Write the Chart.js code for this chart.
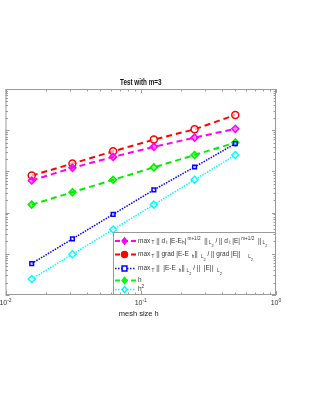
<!DOCTYPE html>
<html>
<head>
<meta charset="utf-8">
<script src="https://cdn.jsdelivr.net/npm/chart.js@4/dist/chart.umd.min.js"></script>
<style>
  html, body { margin: 0; padding: 0; background: #fff; }
  #c { display: block; }
</style>
</head>
<body>
<canvas id="c" width="327" height="394"></canvas>
<script>
// ---- data ----
const meshSizes = [0.015625, 0.03125, 0.0625, 0.125, 0.25, 0.5];
const errDtNorm = [0.060, 0.122, 0.225, 0.394, 0.66, 1.08];   // magenta
const errGrad   = [0.079, 0.155, 0.307, 0.592, 1.05, 2.35];   // red
const errL2     = [0.00058, 0.0023, 0.0091, 0.0356, 0.128, 0.47]; // blue
const refH      = [0.015625, 0.03125, 0.0625, 0.125, 0.25, 0.5];  // green
const refH2     = [0.000244, 0.000977, 0.0039, 0.0156, 0.0625, 0.25]; // cyan
const xDecades = [-2, -1, 0];
const yDecades = [-4, -3, -2, -1, 0, 1];
const titleText = 'Test with m=3';
const xLabelText = 'mesh size h';

const FONT = 'Liberation Sans, Arial, sans-serif';

function pts(ys) { return meshSizes.map((x, i) => ({ x: x, y: ys[i] })); }

// legend entries: segments with level 0 normal, 1 super, -1 sub, -2 sub-of-sub
const legendRows = [
  { color: '#ff00ff', dash: [5, 3], width: 2, marker: 'rectRot', mfill: '#ff00ff', y: 241,
    segs: [['max',0],[' T',-1],[' || d',0],[' t',-1],[' |E-E',0],['h',-1],['|',0],[' m+1/2',1],['  ||',0],[' L',-1],['2',-2],[' / || d',0],[' t',-1],[' |E|',0],[' m+1/2',1],['  ||',0],[' L',-1],['2',-2]] },
  { color: '#ff0000', dash: [5, 3], width: 2, marker: 'circle', mfill: '#ff0000', y: 254.5,
    segs: [['max',0],[' T',-1],[' || grad |E-E ',0],[' h',-1],['|| ',0],[' L',-1],['2',-2],[' / || grad |E||',0],['      L',-1],['2',-2]] },
  { color: '#0000ff', dash: [1.5, 1.5], width: 1.5, marker: 'rect', mfill: '#ffffff', y: 268.5,
    segs: [['max',0],[' T',-1],[' ||  |E-E ',0],[' h',-1],['|| ',0],['L',-1],['2',-2],[' / ||  |E||',0],['   L',-1],['2',-2]] },
  { color: '#00ff00', dash: [5, 3], width: 2, marker: 'rectRot', mfill: '#00ff00', y: 280.5,
    segs: [['h',0]] },
  { color: '#00ffff', dash: [1.5, 1.5], width: 1.5, marker: 'rectRot', mfill: '#ffffff', y: 289.5,
    segs: [['h',0],['2',1]] }
];

function drawSegs(ctx, x, y, segs, size) {
  ctx.textBaseline = 'alphabetic';
  ctx.textAlign = 'left';
  for (const [t, lvl] of segs) {
    let fs = size, dy = 0;
    if (lvl === 1) { fs = size * 0.72; dy = -size * 0.45; }
    else if (lvl === -1) { fs = size * 0.72; dy = size * 0.3; }
    else if (lvl === -2) { fs = size * 0.6; dy = size * 0.7; }
    ctx.font = fs + 'px ' + FONT;
    ctx.fillText(t, x, y + dy);
    x += ctx.measureText(t).width;
  }
  return x;
}

function drawMarker(ctx, type, x, y, r, stroke, fill) {
  ctx.save();
  ctx.setLineDash([]);
  ctx.lineWidth = 1.5;
  ctx.strokeStyle = stroke;
  ctx.fillStyle = fill;
  ctx.beginPath();
  if (type === 'circle') ctx.arc(x, y, r, 0, Math.PI * 2);
  else if (type === 'rect') ctx.rect(x - r * 0.8, y - r * 0.8, r * 1.6, r * 1.6);
  else { ctx.moveTo(x, y - r); ctx.lineTo(x + r * 0.8, y); ctx.lineTo(x, y + r); ctx.lineTo(x - r * 0.8, y); ctx.closePath(); }
  ctx.fill();
  ctx.stroke();
  ctx.restore();
}

const decor = {
  id: 'decor',
  afterDraw(chart) {
    const ctx = chart.ctx;
    const a = chart.chartArea;
    const xs = chart.scales.x, ys = chart.scales.y;
    ctx.save();
    // frame
    ctx.strokeStyle = '#9a9a9a';
    ctx.lineWidth = 1;
    ctx.strokeRect(a.left + 0.5, a.top + 0.5, a.right - a.left - 1, a.bottom - a.top - 1);
    // x ticks
    ctx.beginPath();
    for (const d of xDecades) {
      for (let k = 1; k <= 9; k++) {
        const v = k * Math.pow(10, d);
        if (v > 1.0000001) continue;
        const px = Math.round(xs.getPixelForValue(v)) + 0.5;
        const len = k === 1 ? 4 : 2.5;
        ctx.moveTo(px, a.bottom); ctx.lineTo(px, a.bottom - len);
        ctx.moveTo(px, a.top); ctx.lineTo(px, a.top + len);
      }
    }
    for (const d of yDecades) {
      for (let k = 1; k <= 9; k++) {
        const v = k * Math.pow(10, d);
        if (v > 10.000001) continue;
        const py = Math.round(ys.getPixelForValue(v)) + 0.5;
        const len = k === 1 ? 4 : 2.5;
        ctx.moveTo(a.left, py); ctx.lineTo(a.left + len, py);
        ctx.moveTo(a.right, py); ctx.lineTo(a.right - len, py);
      }
    }
    ctx.stroke();
    // x tick labels
    ctx.fillStyle = '#333';
    for (const d of xDecades) {
      const px = xs.getPixelForValue(Math.pow(10, d));
      ctx.font = '7px ' + FONT;
      const w1 = ctx.measureText('10').width;
      ctx.font = '5px ' + FONT;
      const w2 = ctx.measureText(String(d)).width;
      drawSegs(ctx, px - (w1 + w2) / 2, a.bottom + 10, [['10',0],[String(d),1]], 7);
    }
    // x label
    ctx.font = '7.5px ' + FONT;
    ctx.textAlign = 'center';
    ctx.fillStyle = '#222';
    ctx.fillText(xLabelText, (a.left + a.right) / 2 - 2, a.bottom + 21);
    // title (condensed, as in the reference)
    ctx.save();
    ctx.translate((a.left + a.right) / 2, a.top - 4);
    ctx.scale(0.7, 1);
    ctx.font = 'bold 9px ' + FONT;
    ctx.fillStyle = '#111';
    ctx.textAlign = 'center';
    ctx.fillText(titleText, 0, 0);
    ctx.restore();
    ctx.restore();
  },
  afterDatasetsDraw(chart) {
    const ctx = chart.ctx;
    const a = chart.chartArea;
    ctx.save();
    const bx = 113, by = 232, bw = a.right - 113, bh = a.bottom - 232;
    ctx.fillStyle = '#fff';
    ctx.fillRect(bx, by, bw, bh);
    ctx.strokeStyle = '#9a9a9a';
    ctx.lineWidth = 1;
    ctx.strokeRect(bx + 0.5, by + 0.5, bw - 1, bh - 1);
    for (const r of legendRows) {
      ctx.save();
      ctx.strokeStyle = r.color;
      ctx.lineWidth = r.width;
      ctx.setLineDash(r.dash);
      ctx.beginPath();
      ctx.moveTo(115, r.y); ctx.lineTo(136, r.y);
      ctx.stroke();
      ctx.restore();
      drawMarker(ctx, r.marker, 124.5, r.y, 3, r.color, r.mfill);
      ctx.fillStyle = '#333';
      drawSegs(ctx, 138, r.y + 1.5, r.segs, 6.5);
    }
    ctx.restore();
  }
};

function ds(data, color, dash, width, style, fill, radius) {
  return {
    data: pts(data),
    borderColor: color,
    borderWidth: width,
    borderDash: dash,
    pointStyle: style,
    pointRadius: radius,
    pointBorderWidth: 1.5,
    pointBorderColor: color,
    pointBackgroundColor: fill,
    fill: false,
    tension: 0
  };
}

new Chart(document.getElementById('c'), {
  type: 'line',
  data: {
    datasets: [
      ds(errDtNorm, '#ff00ff', [6, 4], 2, 'rectRot', 'rgba(255,0,255,0.45)', 3.5),
      ds(errGrad, '#ff0000', [6, 4], 2, 'circle', 'rgba(255,255,255,0.6)', 3.5),
      ds(errL2, '#0000ff', [1.5, 1.2], 1.5, 'rect', 'rgba(255,255,255,0.6)', 2.6),
      ds(refH, '#00ee00', [6, 4], 2, 'rectRot', 'rgba(0,238,0,0.5)', 3.5),
      ds(refH2, '#00ffff', [1.5, 1.2], 1.5, 'rectRot', 'rgba(255,255,255,0.6)', 3.5)
    ]
  },
  options: {
    responsive: false,
    animation: false,
    layout: { padding: { left: 4, right: 51, top: 89, bottom: 99 } },
    plugins: { legend: { display: false }, title: { display: false }, tooltip: { enabled: false } },
    scales: {
      x: { type: 'logarithmic', min: 0.01, max: 1, display: false },
      y: { type: 'logarithmic', min: 0.0001, max: 10, display: false }
    }
  },
  plugins: [decor]
});
</script>
</body>
</html>
